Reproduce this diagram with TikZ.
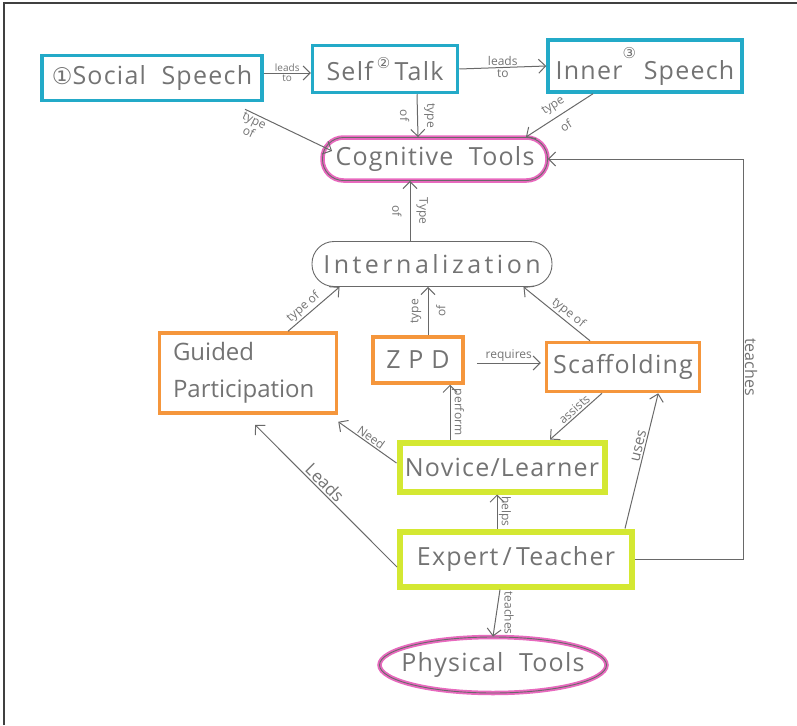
\documentclass[tikz,border=0pt]{standalone}
\usepackage{fontspec}
\setmainfont{Open Sans}
\newfontfamily\handfont[LetterSpace=5]{Open Sans}
\newfontfamily\widefont[LetterSpace=14]{Open Sans}
\newfontfamily\symfont{DejaVu Sans}
\usetikzlibrary{arrows.meta,shapes.geometric,calc}
\definecolor{ink}{RGB}{105,105,105}
\definecolor{txt}{RGB}{115,115,115}
\definecolor{cyanb}{RGB}{35,170,200}
\definecolor{pinkb}{RGB}{232,105,190}
\definecolor{orangeb}{RGB}{245,150,60}
\definecolor{limeb}{RGB}{212,232,50}
\begin{document}
\begin{tikzpicture}[x=1pt,y=-1pt,
  every node/.style={text=txt},
  mainfont/.style={font=\handfont\fontsize{25}{37}\selectfont},
  cbox/.style={mainfont, draw=cyanb, line width=3.5pt, rectangle, inner sep=0pt},
  obox/.style={mainfont, draw=orangeb, line width=3.5pt, rectangle, inner sep=0pt},
  lbox/.style={mainfont, draw=limeb, line width=6pt, rectangle, inner sep=0pt},
  pill/.style={mainfont, draw=ink, line width=0.9pt, rectangle, rounded corners=21pt, inner sep=0pt},
  pinkpill/.style={pill, preaction={draw=pinkb, line width=4.5pt}},
  conn/.style={draw=ink, line width=1pt, -{Straight Barb[length=7pt,width=14pt]}},
  elab/.style={font=\fontsize{12}{13}\selectfont, inner sep=1.5pt},
  tlab/.style={font=\fontsize{10}{11}\selectfont, inner sep=1pt}
]
\useasboundingbox (0,0) rectangle (797,725);
% frame
\draw[line width=1.5pt, black!75] (4,725) -- (4,3) -- (797,3);

% nodes
\node[cbox, minimum width=220, minimum height=45] (ss) at (152,78)
  {{\symfont\fontsize{23}{23}\selectfont ①}Social\ \ Speech};
\node[cbox, minimum width=145, minimum height=47] (st) at (385,69)
  {Self\,\raisebox{12pt}{\symfont\fontsize{15}{15}\selectfont ②}\,Talk};
\node[cbox, minimum width=194, minimum height=52] (is) at (645,66)
  {Inner\raisebox{21pt}{\symfont\fontsize{15}{15}\selectfont ③}\ Speech};
\node[pinkpill, minimum width=225, minimum height=43] (ct) at (435,159) {Cognitive\ \ Tools};
\node[pill, minimum width=240, minimum height=45, rounded corners=22pt,
  font=\widefont\fontsize{25}{30}\selectfont] (in) at (432,264) {Internalization};
\node[obox, minimum width=177, minimum height=80, align=left, text width=150pt,
  font=\fontsize{24}{37}\selectfont] (gp) at (248,373)
  {Guided\\Participation};
\node[obox, minimum width=90, minimum height=46] (zpd) at (418,360) {Z\ P\ D};
\node[obox, minimum width=153, minimum height=49] (sc) at (623,367) {Scaffolding};
\node[lbox, minimum width=205, minimum height=49] (nl) at (502,467) {Novice/Learner};
\node[lbox, minimum width=232, minimum height=55] (et) at (516,559) {Expert\,/\,Teacher};
\node[mainfont, ellipse, draw=ink, line width=0.9pt, preaction={draw=pinkb, line width=4.5pt},
  minimum width=227, minimum height=56, inner xsep=-12pt, inner ysep=0pt] (pt) at (493,665) {Physical\ \ Tools};

% connectors
\draw[conn] ([yshift=5pt]ss.east) -- node[tlab, above]{leads} node[tlab, below]{to} ([yshift=-4pt]st.west);
\draw[conn] (st.east) -- node[elab, above]{leads} node[elab, below]{to} (is.west);
\draw[conn] ([shift={(93pt,-7pt)}]ss.south) -- node[elab, pos=0.22, sloped, below, align=center, xshift=-8pt]{type\\of}
  ([shift={(10pt,8pt)}]ct.west);
\draw[conn] ([xshift=32pt]st.south) -- node[elab, midway, rotate=-90, align=center, font=\fontsize{12}{27}\selectfont]{type\\of}
  ([xshift=-17pt]ct.north);
\draw[conn] ([xshift=-52pt]is.south) -- node[elab, midway, sloped, align=center, font=\fontsize{12}{25}\selectfont]{type\\of}
  ([xshift=-22pt]ct.north east);
\draw[conn] ([xshift=-22pt]in.north) -- node[elab, midway, rotate=-90, align=center, font=\fontsize{12}{27}\selectfont]{Type\\of}
  ([xshift=-25pt]ct.south);
\draw[conn] ([xshift=40pt]gp.north) -- node[elab, pos=0.4, sloped, above]{type of} ([xshift=28pt]in.south west);
\draw[conn] ([xshift=10pt]zpd.north) -- node[elab, midway, rotate=90, align=center, font=\fontsize{12}{27}\selectfont]{type\\of}
  ([xshift=-4pt]in.south);
\draw[conn] ([xshift=-33pt]sc.north) -- node[elab, pos=0.4, sloped, above]{type of} ([xshift=-29pt]in.south east);
\draw[conn] ([shift={(12pt,-3pt)}]zpd.east) -- node[elab, midway, above]{requires} ([shift={(-4pt,4pt)}]sc.west);
\draw[conn] ([xshift=-52pt]nl.north) -- node[elab, midway, rotate=-90, anchor=south]{perform} ([xshift=32pt]zpd.south);
\draw[conn] ([yshift=4pt]nl.west) -- node[elab, midway, sloped, above]{Need} ([yshift=-7pt]gp.south east);
\draw[conn] ([xshift=-21pt]sc.south) -- node[elab, pos=0.45, sloped, above]{assists} ([xshift=48pt]nl.north);
\draw[conn] ([xshift=-19pt]et.north) -- node[elab, midway, rotate=-90, anchor=south]{helps} ([xshift=-5pt]nl.south);
\draw[conn] ([xshift=-10pt]et.north east) -- node[elab, pos=0.6, sloped, above, font=\fontsize{15}{16}\selectfont]{uses}
  ([xshift=-43pt]sc.south east);
\draw[conn] ([yshift=-8pt]et.west) -- node[elab, pos=0.55, sloped, above, font=\fontsize{17}{18}\selectfont]{Leads}
  ([shift={(7pt,-10pt)}]gp.south);
\draw[conn] ([xshift=-16pt]et.south) -- node[elab, midway, rotate=-90, anchor=south, yshift=6pt]{teaches} (pt.north);
\draw[conn] (et.east) -- ++(108,0) |- node[elab, pos=0.24, rotate=-90, anchor=south, font=\fontsize{16}{17}\selectfont]{teaches}
  (ct.east);
\end{tikzpicture}
\end{document}
